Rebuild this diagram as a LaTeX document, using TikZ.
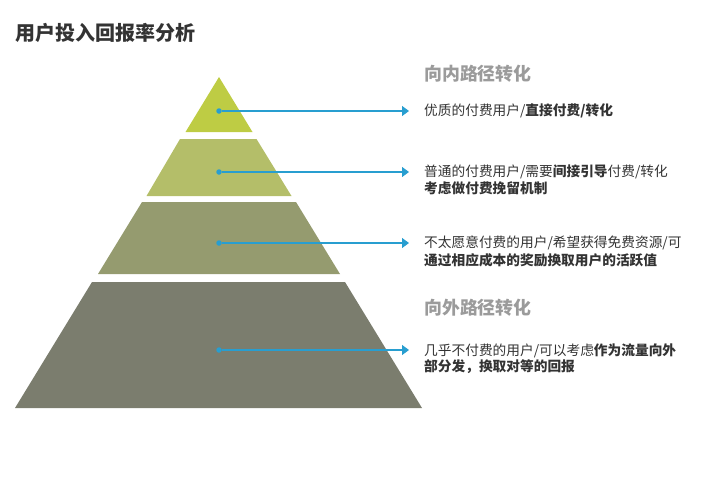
\documentclass[tikz,border=0pt]{standalone}
\usepackage{fontspec}
\setmainfont{Noto Sans CJK SC}
\usetikzlibrary{arrows.meta}
\definecolor{layerA}{RGB}{190,204,68}
\definecolor{layerB}{RGB}{180,190,105}
\definecolor{layerC}{RGB}{149,155,111}
\definecolor{layerD}{RGB}{123,125,110}
\definecolor{pointer}{RGB}{40,158,208}
\definecolor{headgray}{RGB}{155,155,155}
\definecolor{bodytext}{RGB}{51,51,51}
\tikzset{
  dot/.style={circle,fill=pointer,inner sep=0pt,minimum size=5.5pt},
  pointerline/.style={draw=pointer,line width=1.1pt,-{Triangle[length=7pt,width=10pt]}},
  bodyline/.style={anchor=west,inner sep=0pt,text=bodytext,font=\fontsize{13.7}{16}\selectfont},
  heading/.style={anchor=west,inner sep=0pt,text=headgray,font=\fontsize{17.9}{20}\selectfont\bfseries},
}
\begin{document}
\begin{tikzpicture}[x=1pt,y=-1pt]
\useasboundingbox (0,0) rectangle (703,488);
% title
\node[anchor=west,inner sep=0pt,text=bodytext,font=\fontsize{20}{22}\selectfont\bfseries] (title) at (15,33) {用户投入回报率分析};
% pyramid layers
\fill[layerA] (219,77) -- (252.5,132) -- (185.5,132) -- cycle;
\fill[layerB] (180,139) -- (256.5,139) -- (291.5,196) -- (146.5,196) -- cycle;
\fill[layerC] (142,202) -- (296,202) -- (340,274) -- (98,274) -- cycle;
\fill[layerD] (92,282) -- (345,282) -- (422,408) -- (15,408) -- cycle;
% pointers
\node[dot] (d1) at (219,111) {};
\node[dot] (d2) at (219,172) {};
\node[dot] (d3) at (219,243) {};
\node[dot] (d4) at (219,350) {};
\coordinate (e1) at (409,111);
\coordinate (e2) at (409,172);
\coordinate (e3) at (409,243);
\coordinate (e4) at (409,350);
\foreach \i in {1,2,3,4} \draw[pointerline] (d\i) -- (e\i);
% headings
\node[heading] (h1) at (424,74) {向内路径转化};
\node[heading] (h2) at (424,308) {向外路径转化};
% descriptions
\node[bodyline] (t1) at (424,111) {优质的付费用户/\textbf{直接付费/转化}};
\node[bodyline] (t2a) at (424,172) {普通的付费用户/需要\textbf{间接引导}付费/转化};
\node[bodyline] (t2b) at (424,188) {\textbf{考虑做付费挽留机制}};
\node[bodyline] (t3a) at (424,243) {不太愿意付费的用户/希望获得免费资源/可};
\node[bodyline] (t3b) at (424,260) {\textbf{通过相应成本的奖励换取用户的活跃值}};
\node[bodyline] (t4a) at (424,351) {几乎不付费的用户/可以考虑\textbf{作为流量向外}};
\node[bodyline] (t4b) at (424,367) {\textbf{部分发，换取对等的回报}};
\end{tikzpicture}
\end{document}
